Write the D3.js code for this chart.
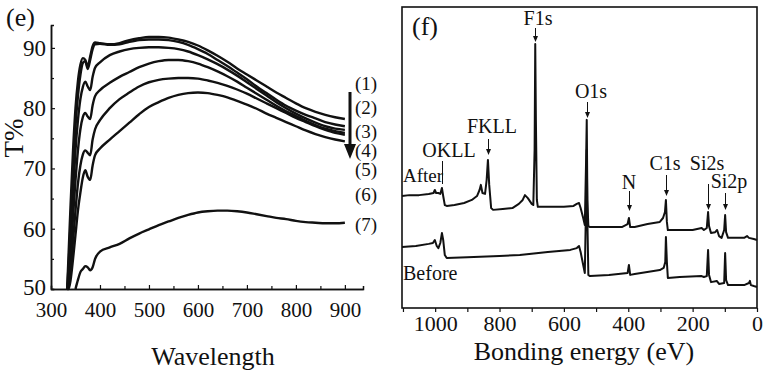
<!DOCTYPE html>
<html>
<head>
<meta charset="utf-8">
<script src="https://cdn.jsdelivr.net/npm/d3@7"></script>
<style>
  body { margin: 0; background: #fff; }
  text { font-family: "Liberation Serif", "Times New Roman", serif; fill: #111; }
</style>
</head>
<body>
<svg id="chart"></svg>
<script>
// ---- panel (e): transmittance vs wavelength ----
const wavelength = [333, 336, 340, 345, 350, 355, 360, 365, 370, 375, 380, 385, 390, 400, 420, 440, 460, 480, 500, 520,
  540, 560, 580, 600, 620, 640, 660, 680, 700, 720, 740, 760, 780, 800, 820, 840, 860, 880, 900];
const curve1 = [50, 56, 64, 73, 80, 84.5, 87.2, 88.3, 88.0, 86.9, 88.6, 90.3, 90.9, 90.8, 90.6, 90.8, 91.3, 91.6, 91.8, 91.8,
  91.7, 91.4, 91.0, 90.4, 89.6, 88.7, 87.7, 86.6, 85.6, 84.6, 83.6, 82.6, 81.7, 80.8, 80.0, 79.4, 78.9, 78.5, 78.2];
const curve2 = [50, 54, 61, 70, 77, 82, 85.5, 87.5, 87.8, 86.5, 88.0, 89.8, 90.6, 90.7, 90.5, 90.6, 91.0, 91.3, 91.4, 91.4,
  91.3, 91.0, 90.5, 89.8, 89.0, 88.0, 87.0, 85.9, 84.8, 83.6, 82.5, 81.4, 80.4, 79.6, 78.9, 78.3, 77.7, 77.3, 77.0];
const curve3 = [50, 52, 58, 66, 73, 78, 81.5, 83.5, 84.4, 83.6, 83.0, 85.2, 86.7, 87.6, 88.8, 89.4, 89.8, 90.0, 90.1, 90.1,
  90.0, 89.8, 89.4, 88.8, 88.1, 87.3, 86.4, 85.4, 84.3, 83.2, 82.1, 81.0, 80.0, 79.1, 78.3, 77.6, 77.0, 76.6, 76.4];
const curve4 = [50, 51, 55, 62, 68, 73, 76.5, 78.5, 79.2, 78.6, 78.2, 80.5, 82.0, 83.0, 84.2, 85.2, 86.0, 86.8, 87.4, 87.8,
  88.0, 88.0, 87.8, 87.4, 86.8, 86.1, 85.3, 84.4, 83.4, 82.4, 81.4, 80.4, 79.5, 78.7, 77.9, 77.2, 76.6, 76.2, 75.9];
const curve5 = [50, 50.5, 53, 58, 63, 67.5, 70.5, 72.3, 73.0, 72.6, 72.2, 74.8, 76.5, 78.0, 80.0, 81.5, 82.6, 83.6, 84.3, 84.7,
  84.9, 85.0, 85.0, 84.9, 84.6, 84.2, 83.7, 83.1, 82.4, 81.6, 80.8, 80.0, 79.2, 78.4, 77.7, 77.0, 76.4, 75.9, 75.6];
const curve6 = [50, 50, 51.5, 55, 59, 63, 66, 68.5, 69.7, 68.6, 68.1, 70.5, 72.2, 73.3, 74.8, 76.2, 77.6, 79.0, 80.2, 81.0,
  81.7, 82.2, 82.5, 82.6, 82.5, 82.2, 81.8, 81.2, 80.6, 79.9, 79.1, 78.4, 77.7, 77.0, 76.3, 75.7, 75.2, 74.8, 74.5];
const curve7 = [null, null, null, null, 50, 51.5, 52.8, 53.3, 53.8, 53.6, 53.1, 53.6, 55.0, 56.2, 56.9, 57.5, 58.4, 59.2, 59.9, 60.6,
  61.2, 61.8, 62.3, 62.7, 62.9, 63.0, 63.0, 62.9, 62.7, 62.4, 62.1, 61.8, 61.6, 61.3, 61.1, 61.0, 60.9, 60.9, 61.0];
const curveLabels = ["(1)", "(2)", "(3)", "(4)", "(5)", "(6)", "(7)"];
const wlTicks = [300, 400, 500, 600, 700, 800, 900];
const tTicks = [50, 60, 70, 80, 90];

// ---- panel (f): XPS survey ----
const energyAfter = [1103, 1080, 1050, 1020, 1005, 1001, 997, 990, 984, 979, 975, 970, 964, 940, 910, 886, 870, 862, 858, 853,
  845, 840, 836, 832, 826, 820, 790, 760, 740, 728, 721, 712, 700, 695, 691, 689, 687, 684, 681, 650, 600, 570, 560, 553, 548,
  540, 535, 531, 529, 527, 524, 519, 480, 420, 402, 398, 394, 380, 340, 302, 292, 289, 286, 283, 280, 277, 240, 200, 172, 165,
  156, 152, 149, 143, 130, 124, 118, 110, 102, 99, 96, 90, 60, 40, 31, 25, 10, 0];
const countsAfter = [37.2, 37.5, 37.5, 37.9, 38.2, 39.2, 38.2, 38.2, 37.9, 39.9, 37.2, 34.2, 33.9, 34.2, 34.9, 35.9, 37.2, 39.2, 40.9, 38.2,
  37.9, 42.5, 49.2, 40.9, 33.2, 32.6, 32.9, 33.2, 34.6, 35.9, 37.5, 36.5, 34.6, 34.2, 52.5, 87.7, 62.5, 35.9, 33.6, 33.6, 33.6, 33.9, 34.6, 34.9, 33.2,
  29.9, 27.6, 49.2, 62.5, 35.9, 27.2, 26.9, 26.9, 26.9, 27.9, 29.9, 26.9, 26.9, 27.9, 28.6, 29.9, 30.9, 31.9, 35.9, 28.6, 25.9, 25.9, 25.9, 26.6, 25.9,
  26.6, 31.9, 27.2, 24.9, 25.2, 25.9, 23.9, 23.3, 25.9, 30.9, 25.2, 23.3, 23.3, 23.3, 23.9, 23.3, 22.9, 22.6];
const energyBefore = [1103, 1060, 1020, 1007, 1001, 995, 990, 984, 979, 975, 970, 964, 900, 800, 737, 650, 580, 560, 553, 548,
  540, 535, 531, 529, 527, 524, 519, 460, 402, 398, 394, 380, 302, 290, 285, 283, 280, 277, 240, 172, 165, 156, 152, 149, 143,
  125, 118, 102, 99, 96, 90, 40, 25, 22, 19, 10, 0];
const countsBefore = [20.3, 20.6, 21.3, 21.6, 22.6, 20.6, 19.9, 21.6, 24.9, 22.6, 17.6, 16.6, 16.9, 17.3, 17.6, 18.6, 19.3, 19.9, 20.6, 18.6,
  14.3, 11.6, 35.9, 52.5, 29.2, 11.0, 10.6, 11.0, 11.6, 14.3, 11.0, 11.3, 12.6, 13.3, 15.3, 23.6, 15.3, 10.0, 10.3, 10.6, 10.3, 10.6, 19.3, 11.0, 8.6,
  9.0, 8.0, 8.3, 18.3, 9.3, 7.6, 7.6, 8.3, 9.0, 7.6, 7.3, 7.0];
const evTicks = [1000, 800, 600, 400, 200, 0];
const evMinor = [1100, 900, 700, 500, 300, 100];
// peak labels: name, energy, label position
const peaks = [
  {name: "F1s", ev: 689, tx: 538, ty: 25, y1: 28, y2: 42},
  {name: "O1s", ev: 529, tx: 591, ty: 98, y1: 102, y2: 118},
  {name: "FKLL", ev: 836, tx: 492, ty: 133, y1: 139, y2: 155},
  {name: "N", ev: 398, tx: 629, ty: 189, y1: 191, y2: 211},
  {name: "C1s", ev: 283, tx: 665, ty: 170, y1: 175, y2: 196},
  {name: "Si2s", ev: 152, tx: 707, ty: 170, y1: 184, y2: 210},
  {name: "Si2p", ev: 99, tx: 729, ty: 188, y1: 193, y2: 210}
];

const W = 767, H = 373;
const svg = d3.select("#chart").attr("width", W).attr("height", H);
svg.append("rect").attr("width", W).attr("height", H).attr("fill", "#fff");

// ===== left panel =====
const xL = d3.scaleLinear().domain([300, 937]).range([51, 363]);
const yL = d3.scaleLinear().domain([50, 93.8]).range([289, 25]);

const axL = svg.append("g");
const gx = axL.append("g").attr("transform", "translate(0,289)")
  .call(d3.axisBottom(xL).tickValues(wlTicks).tickSize(-4).tickSizeOuter(0).tickPadding(13));
gx.append("g").call(d3.axisBottom(xL).tickValues(d3.range(350, 950, 100)).tickSize(-3).tickFormat(""));
const gy = axL.append("g").attr("transform", "translate(51,0)")
  .call(d3.axisLeft(yL).tickValues(tTicks).tickSize(-4).tickSizeOuter(0).tickPadding(5));
gy.append("g").call(d3.axisLeft(yL).tickValues([55, 65, 75, 85]).tickSize(-3).tickFormat(""));
axL.selectAll(".domain").attr("stroke", "#111").attr("stroke-width", 1.5);
axL.selectAll(".tick line").attr("stroke", "#111").attr("stroke-width", 1.2);
gx.selectAll("text").attr("font-size", 21).attr("font-family", "Liberation Serif").attr("fill", "#111");
gy.selectAll("text").attr("font-size", 23).attr("font-family", "Liberation Serif").attr("fill", "#111");
gy.selectAll(".tick text").filter(d => d === 50).attr("dy", "0.22em");

const lineL = d3.line()
  .defined(d => d[1] !== null)
  .x(d => xL(d[0])).y(d => yL(d[1]))
  .curve(d3.curveMonotoneX);
[curve7, curve6, curve5, curve4, curve3, curve2, curve1].forEach(c => {
  svg.append("path")
    .datum(wavelength.map((w, i) => [w, c[i]]))
    .attr("d", lineL)
    .attr("fill", "none").attr("stroke", "#111").attr("stroke-width", 2.4)
    .attr("stroke-linejoin", "round");
});

const labelY = [84, 108, 132, 151, 170, 195, 225];
curveLabels.forEach((s, i) => {
  svg.append("text").attr("x", 355).attr("y", labelY[i] + 6).attr("font-size", 19).text(s);
});
svg.append("line").attr("x1", 350).attr("y1", 92).attr("x2", 350).attr("y2", 146)
  .attr("stroke", "#111").attr("stroke-width", 3);
svg.append("path").attr("d", "M344,144 L356,144 L350,159 Z").attr("fill", "#111");

svg.append("text").attr("x", 6).attr("y", 26).attr("font-size", 26).text("(e)");
svg.append("text").attr("transform", "translate(23,138) rotate(-90)")
  .attr("text-anchor", "middle").attr("font-size", 27).text("T%");
svg.append("text").attr("x", 213).attr("y", 365).attr("text-anchor", "middle")
  .attr("font-size", 26).text("Wavelength");

// ===== right panel =====
const xR = d3.scaleLinear().domain([1103, 0]).range([402, 757]);
const yR = d3.scaleLinear().domain([0, 100]).range([308, 7]);

svg.append("rect").attr("x", 402).attr("y", 7).attr("width", 355).attr("height", 301)
  .attr("fill", "none").attr("stroke", "#111").attr("stroke-width", 1.6);
const gxr = svg.append("g").attr("transform", "translate(0,308)")
  .call(d3.axisBottom(xR).tickValues(evTicks).tickFormat(d3.format("d")).tickSize(4).tickSizeOuter(0).tickPadding(3));
gxr.append("g").call(d3.axisBottom(xR).tickValues(evMinor).tickSize(4).tickFormat(""));
gxr.selectAll(".domain").remove();
gxr.selectAll(".tick line").attr("stroke", "#111").attr("stroke-width", 1.2);
gxr.selectAll("text").attr("font-size", 22).attr("font-family", "Liberation Serif").attr("fill", "#111");

const lineR = d3.line().x(d => xR(d[0])).y(d => yR(d[1]));
[[energyAfter, countsAfter], [energyBefore, countsBefore]].forEach(([e, c]) => {
  svg.append("path")
    .datum(e.map((v, i) => [v, c[i]]))
    .attr("d", lineR)
    .attr("fill", "none").attr("stroke", "#111").attr("stroke-width", 2)
    .attr("stroke-linejoin", "round");
});

peaks.forEach(p => {
  const x = Math.round(xR(p.ev)) + 0.5;
  svg.append("text").attr("x", p.tx).attr("y", p.ty).attr("text-anchor", "middle")
    .attr("font-size", 20).text(p.name);
  svg.append("line").attr("x1", x).attr("x2", x).attr("y1", p.y1).attr("y2", p.y2 - 4)
    .attr("stroke", "#111").attr("stroke-width", 1);
  svg.append("path").attr("d", `M${x - 2.5},${p.y2 - 6} L${x + 2.5},${p.y2 - 6} L${x},${p.y2} Z`).attr("fill", "#111");
});
// OKLL marker line
const xo = Math.round(xR(979)) + 0.5;
svg.append("text").attr("x", 449).attr("y", 157).attr("text-anchor", "middle").attr("font-size", 20).text("OKLL");
svg.append("line").attr("x1", xo).attr("x2", xo).attr("y1", 161).attr("y2", 184).attr("stroke", "#111").attr("stroke-width", 1);

svg.append("text").attr("x", 403).attr("y", 182).attr("font-size", 19).text("After");
svg.append("text").attr("x", 403).attr("y", 280).attr("font-size", 20).text("Before");
svg.append("text").attr("x", 412).attr("y", 35).attr("font-size", 26).text("(f)");
svg.append("text").attr("x", 584).attr("y", 360).attr("text-anchor", "middle")
  .attr("font-size", 26).text("Bonding energy (eV)");
</script>
</body>
</html>
